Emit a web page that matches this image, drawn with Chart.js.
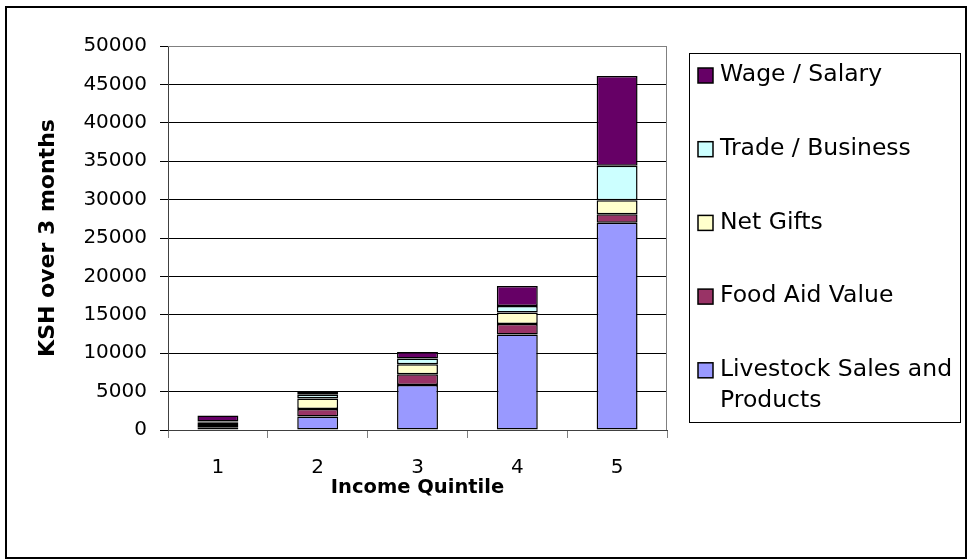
<!DOCTYPE html>
<html>
<head>
<meta charset="utf-8">
<script src="https://cdn.jsdelivr.net/npm/chart.js@4/dist/chart.umd.min.js"></script>
<style>
  html, body { margin: 0; padding: 0; background: #fff; }
  #wrap { width: 971px; height: 560px; position: relative; }
</style>
</head>
<body>
<div id="wrap"><canvas id="grafico" width="971" height="560"></canvas></div>
<script>
// datos
let quintiles = ['1', '2', '3', '4', '5'];
let livestock = [300, 1750, 5850, 12450, 27000];
let foodAid = [350, 1000, 1400, 1350, 1100];
let netGifts = [350, 1350, 1300, 1500, 1800];
let trade = [100, 500, 750, 850, 4500];
let wage = [800, 350, 850, 2600, 11700];

let etiquetas = [['Livestock Sales and', 'Products'], ['Food Aid Value'], ['Net Gifts'], ['Trade / Business'], ['Wage / Salary']];
let colores = ['#9999FF', '#993366', '#FFFFCC', '#CCFFFF', '#660066'];
let series = [livestock, foodAid, netGifts, trade, wage];

let yTicks = [0, 5000, 10000, 15000, 20000, 25000, 30000, 35000, 40000, 45000, 50000];

const fuente = '"DejaVu Sans", "Liberation Sans", Arial, sans-serif';

// marco, borde del area y leyenda propia
const extras = {
    id: 'extras',
    beforeDraw(chart) {
        let ctx = chart.ctx;
        ctx.save();
        ctx.fillStyle = '#fff';
        ctx.fillRect(0, 0, chart.width, chart.height);
        ctx.restore();
    },
    beforeDatasetsDraw(chart) {
        let ctx = chart.ctx;
        let a = chart.chartArea;
        ctx.save();
        ctx.strokeStyle = '#808080';
        ctx.lineWidth = 1;
        ctx.beginPath();
        ctx.moveTo(a.left, a.top + 0.5);
        ctx.lineTo(a.right - 0.5, a.top + 0.5);
        ctx.lineTo(a.right - 0.5, a.bottom);
        ctx.stroke();
        ctx.restore();
    },
    afterDraw(chart) {
        let ctx = chart.ctx;
        ctx.save();
        // marco exterior
        ctx.strokeStyle = '#000';
        ctx.lineWidth = 2;
        ctx.strokeRect(6, 7, 960, 551);
        // caja de la leyenda
        ctx.lineWidth = 1;
        ctx.strokeRect(689.5, 53.5, 271, 369);
        ctx.font = '23.5px ' + fuente;
        ctx.textBaseline = 'middle';
        ctx.fillStyle = '#000';
        let y = 75;
        for (let i = chart.data.datasets.length - 1; i >= 0; i--) {
            let ds = chart.data.datasets[i];
            ctx.fillStyle = ds.backgroundColor;
            ctx.fillRect(698, y - 7, 15, 15);
            ctx.strokeStyle = '#000';
            ctx.lineWidth = 1.5;
            ctx.strokeRect(698, y - 7, 15, 15);
            ctx.fillStyle = '#000';
            for (let j = 0; j < ds.lineas.length; j++) {
                ctx.fillText(ds.lineas[j], 720, y + j * 31);
            }
            y = y + 73.7;
        }
        ctx.restore();
    }
};

let datasets = [];
for (let i = 0; i < series.length; i++) {
    datasets.push({
        label: etiquetas[i].join(' '),
        lineas: etiquetas[i],
        data: series[i],
        backgroundColor: colores[i],
        borderColor: '#000',
        borderWidth: 1.5,
        borderSkipped: false,
        barPercentage: 0.41,
        categoryPercentage: 1
    });
}

let ctx = document.getElementById('grafico').getContext('2d');
let miGrafico = new Chart(ctx, {
    type: 'bar',
    data: { labels: quintiles, datasets: datasets },
    plugins: [extras],
    options: {
        responsive: false,
        animation: false,
        layout: { padding: { left: 0, right: 304, top: 46, bottom: 0 } },
        plugins: { legend: { display: false }, tooltip: { enabled: false } },
        scales: {
            x: {
                stacked: true,
                afterFit: function(scale) { scale.height = 130; },
                grid: { display: true, drawOnChartArea: false, offset: true, tickLength: 8, color: '#808080' },
                border: { color: '#404040', width: 1 },
                ticks: { color: '#000', padding: 18, font: { family: fuente, size: 20 } },
                title: { display: true, text: 'Income Quintile', color: '#000', padding: { top: 0, bottom: 60 },
                    font: { family: fuente, size: 19.5, weight: 'bold' } }
            },
            y: {
                stacked: true,
                min: 0,
                max: 50000,
                afterFit: function(scale) { scale.width = 168; },
                afterBuildTicks: function(scale) { scale.ticks = yTicks.map(function(v) { return { value: v }; }); },
                grid: {
                    tickLength: 8, tickColor: '#000',
                    color: function(c) { return c.tick && c.tick.value === 50000 ? '#808080' : '#000'; }
                },
                border: { color: '#404040', width: 1 },
                ticks: { color: '#000', padding: 13, font: { family: fuente, size: 20 },
                    callback: function(v) { return String(v); } },
                title: { display: true, text: 'KSH over 3 months', color: '#000', padding: { top: 35, bottom: 0 },
                    font: { family: fuente, size: 22, weight: 'bold' } }
            }
        }
    }
});
</script>
</body>
</html>
